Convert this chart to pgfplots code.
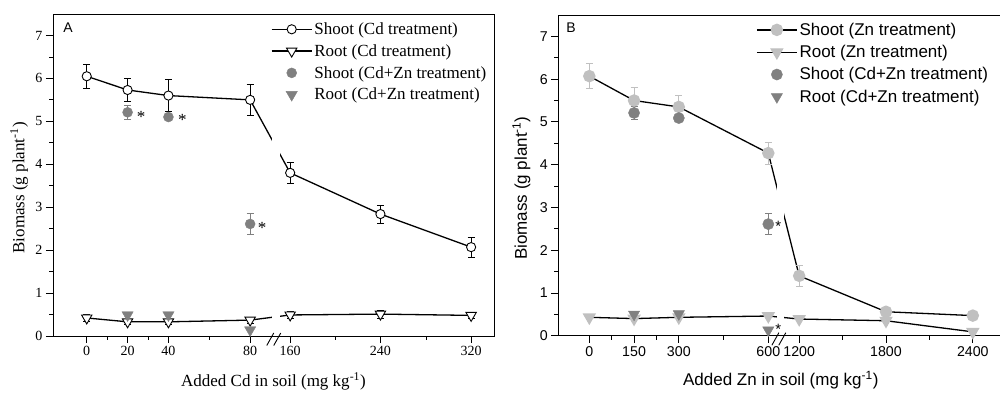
\documentclass[border=0pt]{standalone}
\usepackage{pgfplots}
\pgfplotsset{compat=1.18}
\usepackage{fontspec}
\setmainfont{Liberation Serif}
\newfontfamily\serif{Liberation Serif}
\newfontfamily\sans{Liberation Sans}
\definecolor{dgray}{RGB}{128,128,128}
\definecolor{lgray}{RGB}{192,192,192}
\begin{document}
\begin{tikzpicture}[x=1pt,y=1pt]
\pgfplotsset{
  common/.style={
    scale only axis, ymin=0, ymax=7.5,
    ytick={0,1,2,3,4,5,6,7}, yticklabels={0,1,2,3,4,5,6,7},
    minor ytick={0.5,1.5,2.5,3.5,4.5,5.5,6.5},
    tick align=outside, xtick pos=left, ytick pos=left,
    major tick length=7pt, minor tick length=4pt,
    axis line style={line width=0.9pt},
    every tick/.style={black, line width=0.8pt},
    clip=false,
    legend cell align=left,
    legend image code/.code={\draw[mark repeat=2,mark phase=2,##1] plot coordinates {(0pt,0pt) (20pt,0pt) (40pt,0pt)};},
  },
}
% ---------------- Panel A ----------------
\begin{axis}[common, at={(53pt,57pt)}, anchor=south west, width=441pt, height=322pt,
  xmin=-0.826, xmax=9.97,
  xtick={0,1,2,4,4.98,7.19,9.41}, xticklabels={0,20,40,80,160,240,320},
  minor xtick={0.5,1.5,3,6.09,8.32},
  ticklabel style={font=\serif\fontsize{14}{16}\selectfont},
  xlabel={Added Cd in soil (mg kg\textsuperscript{-1})},
  ylabel={Biomass (g plant\textsuperscript{-1})},
  xlabel style={at={(axis description cs:0.5,-0.142)}, anchor=center, font=\serif\fontsize{17}{19}\selectfont},
  ylabel style={at={(axis description cs:-0.077,0.46)}, anchor=center, font=\serif\fontsize{17}{19}\selectfont},
  legend style={draw=none, fill=none, at={(0.494,0.98)}, anchor=north west, inner sep=0pt, row sep=4.5pt,
    font=\serif\fontsize{17}{19}\selectfont},
]
\addplot[black, line width=1.3pt, mark=*, mark size=4.6pt,
  mark options={fill=white, draw=black, line width=0.9pt, solid},
  error bars/.cd, y dir=both, y explicit,
  error bar style={black, line width=0.8pt}, error mark options={black, line width=0.8pt, mark size=3.5pt, rotate=90}]
coordinates {(0,6.05) +- (0,0.28) (1,5.73) +- (0,0.27) (2,5.6) +- (0,0.38) (4,5.5) +- (0,0.36)
  (4.98,3.8) +- (0,0.25) (7.19,2.84) +- (0,0.21) (9.41,2.07) +- (0,0.23)};
\addlegendentry{Shoot (Cd treatment)}
\addplot[black, line width=1.3pt, mark=triangle*, mark size=6pt,
  mark options={fill=white, draw=black, line width=0.9pt, solid, rotate=180},
  error bars/.cd, y dir=both, y explicit,
  error bar style={black, line width=0.8pt}, error mark options={black, line width=0.8pt, mark size=3.5pt, rotate=90}]
coordinates {(0,0.42) +- (0,0.08) (1,0.33) +- (0,0.06) (2,0.33) +- (0,0.06) (4,0.37) +- (0,0.07)
  (4.98,0.49) +- (0,0.08) (7.19,0.51) +- (0,0.09) (9.41,0.48) +- (0,0.08)};
\addlegendentry{Root (Cd treatment)}
\addplot[only marks, dgray, mark=*, mark size=5pt,
  mark options={fill=dgray, draw=dgray},
  error bars/.cd, y dir=both, y explicit,
  error bar style={dgray, line width=0.8pt}, error mark options={dgray, line width=0.8pt, mark size=3.5pt, rotate=90}]
coordinates {(1,5.21) +- (0,0.16) (2,5.1) +- (0,0.06) (4,2.61) +- (0,0.24)};
\addlegendentry{Shoot (Cd+Zn treatment)}
\addplot[only marks, dgray, mark=triangle*, mark size=6.5pt,
  mark options={fill=dgray, draw=dgray, rotate=180}]
coordinates {(1,0.49) (2,0.49) (4,0.14)};
\addlegendentry{Root (Cd+Zn treatment)}
% axis break gap
\fill[white] (axis cs:4.53,0.03) rectangle (axis cs:4.72,7.47);
\draw[line width=0.9pt] (axis cs:4.407,0) ++(0pt,-9.5pt) -- ++(7pt,12.5pt);
\draw[line width=0.9pt] (axis cs:4.578,0) ++(0pt,-9.5pt) -- ++(7pt,12.5pt);
% significance marks
\node[font=\serif\fontsize{17}{17}\selectfont, xshift=13.5pt, yshift=-5pt] at (axis cs:1,5.21) {*};
\node[font=\serif\fontsize{17}{17}\selectfont, xshift=14pt, yshift=-3pt] at (axis cs:2,5.1) {*};
\node[font=\serif\fontsize{17}{17}\selectfont, xshift=12pt, yshift=-4pt] at (axis cs:4,2.61) {*};
\node[font=\sans\fontsize{14}{14}\selectfont, anchor=center] at (axis description cs:0.034,0.9565) {A};
\end{axis}
% ---------------- Panel B ----------------
\begin{axis}[common, at={(558.3pt,57.3pt)}, anchor=south west, width=444.7pt, height=320.7pt,
  xmin=-0.693, xmax=9.245,
  xtick={0,1,2,4,4.69,6.63,8.57}, xticklabels={0,150,300,600,1200,1800,2400},
  minor xtick={0.5,1.5,3,5.66,7.6},
  ticklabel style={font=\sans\fontsize{14.2}{16}\selectfont},
  xlabel={Added Zn in soil (mg kg\textsuperscript{-1})},
  ylabel={Biomass (g plant\textsuperscript{-1})},
  xlabel style={at={(axis description cs:0.5003,-0.138)}, anchor=center, font=\sans\fontsize{17}{19}\selectfont},
  ylabel style={at={(axis description cs:-0.083,0.46)}, anchor=center, font=\sans\fontsize{17}{19}\selectfont},
  legend style={draw=none, fill=none, at={(0.4446,0.982)}, anchor=north west, inner sep=0pt, row sep=4.5pt,
    font=\sans\fontsize{17}{19}\selectfont},
]
\addplot[black, line width=1.3pt, mark=*, mark size=5.6pt,
  mark options={fill=lgray, draw=lgray, solid},
  error bars/.cd, y dir=both, y explicit,
  error bar style={lgray, line width=0.8pt}, error mark options={lgray, line width=0.8pt, mark size=3.5pt, rotate=90}]
coordinates {(0,6.07) +- (0,0.29) (1,5.5) +- (0,0.3) (2,5.35) +- (0,0.28) (4,4.27) +- (0,0.26)
  (4.69,1.4) +- (0,0.25) (6.63,0.56) +- (0,0.03) (8.57,0.47) +- (0,0.03)};
\addlegendentry{Shoot (Zn treatment)}
\addplot[black, line width=1.3pt, mark=triangle*, mark size=6.5pt,
  mark options={fill=lgray, draw=lgray, solid, rotate=180}]
coordinates {(0,0.43) (1,0.4) (2,0.43) (4,0.46) (4.69,0.39) (6.63,0.35) (8.57,0.09)};
\addlegendentry{Root (Zn treatment)}
\addplot[only marks, dgray, mark=*, mark size=5.6pt,
  mark options={fill=dgray, draw=dgray},
  error bars/.cd, y dir=both, y explicit,
  error bar style={dgray, line width=0.8pt}, error mark options={dgray, line width=0.8pt, mark size=3.5pt, rotate=90}]
coordinates {(1,5.21) +- (0,0.15) (2,5.09) +- (0,0.05) (4,2.61) +- (0,0.25)};
\addlegendentry{Shoot (Cd+Zn treatment)}
\addplot[only marks, dgray, mark=triangle*, mark size=6.5pt,
  mark options={fill=dgray, draw=dgray, rotate=180}]
coordinates {(1,0.5) (2,0.51) (4,0.13)};
\addlegendentry{Root (Cd+Zn treatment)}
% axis break gap
\fill[white] (axis cs:4.2,0.03) rectangle (axis cs:4.36,7.47);
\draw[line width=0.9pt] (axis cs:4.08,0) ++(0pt,-9.5pt) -- ++(7pt,12.5pt);
\draw[line width=0.9pt] (axis cs:4.235,0) ++(0pt,-9.5pt) -- ++(7pt,12.5pt);
% significance marks
\node[font=\sans\fontsize{15}{15}\selectfont, xshift=10pt, yshift=-2pt] at (axis cs:4,2.61) {*};
\node[font=\sans\fontsize{15}{15}\selectfont, xshift=10pt, yshift=1pt] at (axis cs:4,0.13) {*};
\node[font=\sans\fontsize{14}{14}\selectfont, anchor=center] at (axis description cs:0.0286,0.9595) {B};
\end{axis}
\pgfresetboundingbox
\path[use as bounding box] (0,0) rectangle (1000,393);
\end{tikzpicture}
\end{document}
